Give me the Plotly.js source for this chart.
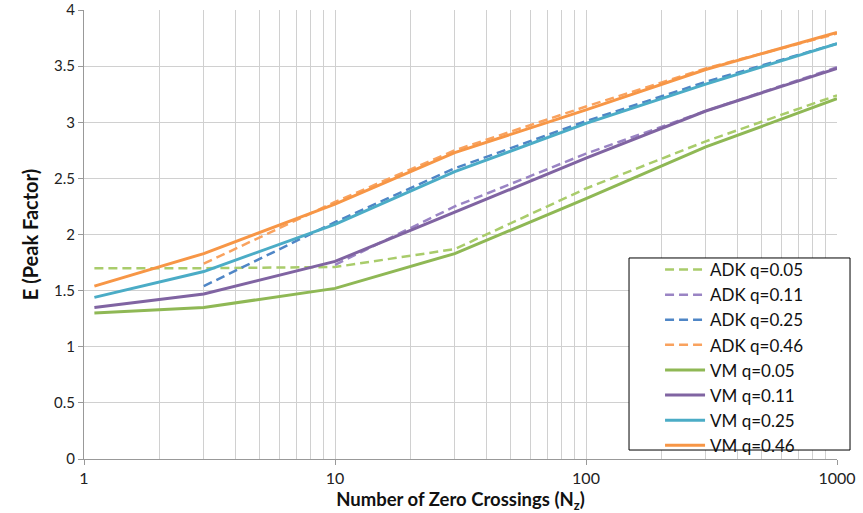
<!DOCTYPE html>
<html>
<head>
<meta charset="utf-8">
<script src="https://cdn.plot.ly/plotly-3.0.1.min.js"></script>
<style>html,body{margin:0;padding:0;background:#fff;}#chart{width:863px;height:513px;}</style>
</head>
<body>
<div id="chart"></div>
<script>
// Data
const nzFull = [1.1, 3, 10, 30, 100, 300, 1000];
const nzFrom3 = [3, 10, 30, 100, 300, 1000];
const nzFrom10 = [10, 30, 100, 300, 1000];

const adk005 = [1.70, 1.70, 1.71, 1.87, 2.41, 2.83, 3.24];
const adk011 = [1.73, 2.25, 2.72, 3.10, 3.49];
const adk025 = [1.54, 2.11, 2.59, 3.01, 3.36, 3.70];
const adk046 = [1.74, 2.29, 2.75, 3.14, 3.48, 3.79];

const vm005 = [1.30, 1.35, 1.52, 1.83, 2.32, 2.78, 3.21];
const vm011 = [1.35, 1.47, 1.76, 2.20, 2.68, 3.10, 3.48];
const vm025 = [1.44, 1.67, 2.09, 2.56, 2.99, 3.34, 3.70];
const vm046 = [1.54, 1.83, 2.27, 2.73, 3.11, 3.47, 3.80];

const xLabels = ['1', '10', '100', '1000'];
const xTickVals = [1, 10, 100, 1000];

const FONT = 'Lato, "Open Sans", sans-serif';

function dashed(x, y, name, color) {
  return {x: x, y: y, name: name, type: 'scatter', mode: 'lines',
    line: {color: color, width: 2.5, dash: '9px,5px'}};
}
function solid(x, y, name, color) {
  return {x: x, y: y, name: name, type: 'scatter', mode: 'lines',
    line: {color: color, width: 3}};
}

const traces = [
  dashed(nzFull, adk005, 'ADK q=0.05', '#a9cc6b'),
  dashed(nzFrom10, adk011, 'ADK q=0.11', '#9a84c4'),
  dashed(nzFrom3, adk025, 'ADK q=0.25', '#4f86c6'),
  dashed(nzFrom3, adk046, 'ADK q=0.46', '#f9a25e'),
  solid(nzFull, vm005, 'VM q=0.05', '#8fb855'),
  solid(nzFull, vm011, 'VM q=0.11', '#8064a2'),
  solid(nzFull, vm025, 'VM q=0.25', '#4bacc6'),
  solid(nzFull, vm046, 'VM q=0.46', '#f79646')
];

const layout = {
  width: 863, height: 513,
  margin: {l: 84, r: 26, t: 10, b: 54},
  paper_bgcolor: '#fff', plot_bgcolor: '#fff',
  font: {family: FONT, size: 15, color: '#222'},
  showlegend: true,
  legend: {
    x: 0.765, y: 0.461, xanchor: 'left', yanchor: 'top',
    bgcolor: 'rgba(0,0,0,0)', borderwidth: 0,
    font: {family: FONT, size: 17, color: '#111'},
    tracegroupgap: 0, itemwidth: 40
  },
  // legend frame (decoration)
  shapes: [{
    type: 'rect', xref: 'paper', yref: 'paper', layer: 'above',
    x0: 0.7238, x1: 1.0173, y0: 0.020, y1: 0.4477,
    line: {color: '#000', width: 1}, fillcolor: '#fff'
  }],
  xaxis: {
    type: 'log', range: [0, 3],
    tickmode: 'array', tickvals: xTickVals, ticktext: xLabels,
    ticks: 'outside', ticklen: 5, tickcolor: '#999',
    showline: true, linecolor: '#999', linewidth: 1,
    showgrid: true, gridcolor: '#d0d0d0', gridwidth: 1,
    minor: {dtick: 'D1', showgrid: true, gridcolor: '#d0d0d0', gridwidth: 1, ticks: ''},
    zeroline: false,
    tickfont: {family: FONT, size: 16, color: '#222'},
    title: {text: '<b>Number of Zero Crossings (N<sub>z</sub>)</b>', standoff: 9,
      font: {family: FONT, size: 18.5, color: '#111'}}
  },
  yaxis: {
    range: [0, 4], dtick: 0.5, tickmode: 'linear', tick0: 0,
    ticks: 'outside', ticklen: 5, tickcolor: '#999',
    showline: true, linecolor: '#999', linewidth: 1,
    showgrid: true, gridcolor: '#d0d0d0', gridwidth: 1,
    zeroline: false,
    tickfont: {family: FONT, size: 15, color: '#222'},
    title: {text: '<b>E (Peak Factor)</b>', standoff: 10,
      font: {family: FONT, size: 20, color: '#111'}}
  }
};

Plotly.newPlot('chart', traces, layout, {displayModeBar: false, staticPlot: true});
</script>
</body>
</html>
